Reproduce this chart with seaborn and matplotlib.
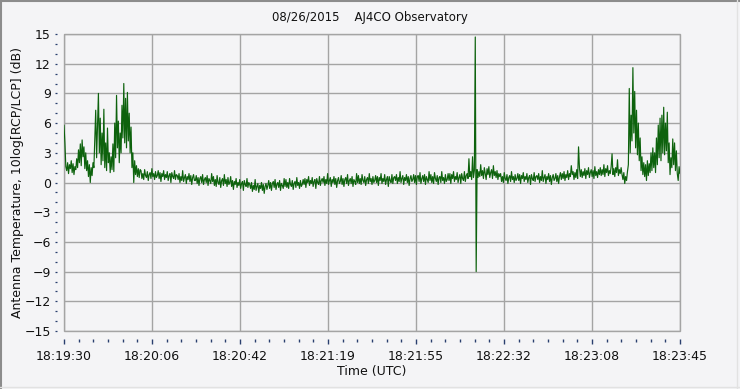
import numpy as np
import pandas as pd
import matplotlib
matplotlib.use("Agg")
import matplotlib.pyplot as plt
import seaborn as sns
from matplotlib.ticker import FixedLocator, MultipleLocator
from matplotlib.patches import Rectangle
from matplotlib.lines import Line2D

# ---------------- data ----------------
title = "08/26/2015    AJ4CO Observatory"
x_label = "Time (UTC)"
y_label = "Antenna Temperature, 10log[RCP/LCP] (dB)"
time_tick_labels = ["18:19:30", "18:20:06", "18:20:42", "18:21:19",
                    "18:21:55", "18:22:32", "18:23:08", "18:23:45"]
duration = 255.0         # seconds shown (18:19:30 -> 18:23:45)

burst_start = [5.8, 4.0, 1.6,
               1.2, 2.0, 0.9, 1.8, 1.4, 2.2, 1.0, 1.9, 0.8, 1.6, 1.3,
               2.4, 1.5, 3.3, 2.0, 3.9, 1.7, 4.3, 2.6, 3.6, 1.4, 3.0, 1.2, 2.2,
               0.6, 1.8, 0.0, 1.5, 0.7, 2.0,
               1.5, 4.5, 7.3, 2.5, 5.8, 9.0, 3.0,
               6.5, 1.8, 5.0, 2.2, 7.4, 1.5, 4.0, 1.2, 5.5, 2.0, 3.0,
               1.0, 2.6, 1.3, 3.9, 1.1, 6.0, 2.5,
               8.8, 3.5, 6.2, 2.0, 5.0, 3.0, 7.8, 4.5, 10.0, 4.0, 8.5, 3.5,
               9.1, 4.2, 7.0, 3.0,
               5.6, 1.5, 3.0, 0.0, 2.2, 0.8, 1.7, 0.6, 1.4, 0.5, 1.3]
quiet_a = [1.2, 0.4, 0.9, 0.3, 1.3, 0.7, 0.5, 1.1, 0.2, 0.8, 1.0, 0.4, 1.4, 0.6, 0.9, 0.3, 1.1, 0.5, 0.7, 1.2,
           0.4, 1.0, 0.1, 0.9, 0.6, 1.2, 0.3, 0.8, 0.5, 1.1, 0.2, 0.7, 0.9, 0.0, 1.0, 0.6, 0.4, 1.2, 0.3, 0.8,
           0.7, 0.3, 0.9, 0.0, 0.6, 0.2, 1.2, 0.1, 0.5, 0.8, -0.1, 0.6, 0.3, 0.9, 0.1, 0.7, -0.2, 0.5, 0.8, 0.2,
           0.2, 0.7, -0.1, 0.5, -0.3, 0.4, 0.6, 0.0, 0.8, -0.2, 0.3, 0.5, 0.0, 0.7, -0.3, 0.4, 0.2, -0.1, 0.9, 0.1,
           0.6, -0.3, 0.3, -0.4, 0.7, 0.0, -0.2, 0.5, -0.5, 0.2, 0.4, -0.3, 0.8, -0.1, 0.3, -0.4, 0.5, -0.2, 0.0, 0.6,
           -0.4, 0.2, -0.7, 0.1, -0.2, 0.4, -0.5, 0.0, -0.3, 0.3, -0.6, -0.1, 0.1, -0.8, 0.2, -0.2, -0.4, 0.4, -0.5, 0.0,
           -0.2, -0.6, 0.0, -0.9, -0.3, -0.7, 0.3, -0.8, -0.4, -0.1, -1.0, -0.3, -0.6, 0.0, -0.8, -0.2, -1.1, -0.4, -0.1, -0.7,
           -0.3, 0.2, -0.6, 0.0, -0.8, -0.1, 0.1, -0.5, 0.3, -0.7, -0.2, 0.0, -0.5, 0.2, -0.8, -0.1, -0.3, -0.6, 0.4, -0.4,
           0.3, -0.5, 0.0, -0.6, 0.4, -0.2, -0.4, 0.2, -0.7, -0.1, 0.1, -0.5, 0.5, -0.3, 0.0, -0.6, 0.2, -0.4, -0.2, 0.3,
           -0.2, 0.4, -0.5, 0.3, 0.0, 0.6, -0.3, 0.2, -0.1, 0.5, -0.4, 0.1, 0.3, -0.6, 0.4, 0.0, -0.2, 0.6, -0.3, 0.2,
           0.4, 0.0, 0.6, -0.3, 0.3, -0.1, 0.9, -0.2, 0.2, 0.5, -0.4, 0.3, 0.0, 0.6, -0.2, 0.4, -0.5, 0.2, 0.5, -0.1,
           0.1, 0.7, -0.2, 0.4, -0.4, 0.3, 0.5, -0.1, 0.8, -0.3, 0.2, 0.4, -0.1, 0.6, -0.4, 0.3, 0.1, -0.2, 0.9, 0.0,
           0.7, -0.1, 0.4, -0.2, 0.8, 0.2, 0.0, 0.6, -0.3, 0.3, 0.5, -0.1, 0.9, 0.1, 0.4, -0.2, 0.6, 0.0, 0.2, 0.7,
           0.0, 0.6, -0.3, 0.5, 0.2, 0.9, -0.1, 0.4, 0.1, 0.8, -0.2, 0.3, 0.6, -0.4, 0.6, 0.2, 0.0, 0.8, -0.1, 0.5,
           0.6, 0.2, 0.8, -0.1, 0.5, 0.1, 1.1, 0.0, 0.4, 0.7, -0.2, 0.5, 0.2, 0.8, 0.0, 0.6, -0.3, 0.4, 0.7, 0.1,
           0.3, 0.8, 0.0, 0.7, -0.2, 0.6, 0.7, 0.1, 1.0, -0.1, 0.4, 0.7, 0.1, 0.8, -0.2, 0.6, 0.3, 0.0, 1.1, 0.2,
           0.8, 0.0, 0.6, -0.1, 1.0, 0.4, 0.1, 0.7, -0.2, 0.5, 0.6, 0.0, 1.1, 0.2, 0.5, -0.1, 0.8, 0.1, 0.3, 0.9,
           0.2, 0.9, -0.1, 0.8, 0.4, 1.1, 0.1, 0.6, 0.3, 1.0, 0.0, 0.5, 0.8, -0.1, 0.9, 0.4, 0.2, 1.1, 0.1, 0.7,
           0.9, 0.4, 2.4, 0.6, 1.1, 0.3, 2.6, 0.5, 1.2]
spike = [14.7, -9.0]
quiet_b = [1.3, 0.5, 1.1, 0.6, 1.8, 0.7, 1.2, 0.4, 1.5, 0.9, 0.3, 1.4, 0.8, 1.6, 0.5, 1.0, 1.3, 0.4, 1.7, 0.7, 1.1, 0.5, 1.2, 0.3, 0.9, 0.6,
           0.9, 0.1, 0.6, 0.0, 1.0, 0.4, 0.2, 0.8, -0.1, 0.5, 0.7, 0.1, 1.1, 0.3, 0.6, 0.0, 0.8, 0.2, 0.4, 0.9,
           0.2, 0.8, -0.1, 0.7, 0.4, 1.0, 0.1, 0.6, 0.3, 0.9, 0.0, 0.5, 0.7, -0.2, 0.8, 0.4, 0.2, 1.0, 0.1, 0.6,
           0.7, 0.3, 0.9, 0.0, 0.6, 0.2, 1.2, 0.1, 0.5, 0.8, -0.1, 0.6, 0.3, 0.9, 0.1, 0.7, -0.2, 0.5, 0.8, 0.2,
           0.4, 0.9, 0.1, 0.7, -0.1, 0.6,
           1.0, 0.3, 0.9, 0.4, 1.1, 0.2, 0.8, 0.5, 1.2, 0.3, 0.9, 0.6,
           1.7, 0.8,
           1.1, 0.3, 1.0, 0.5, 1.3, 0.4,
           3.6, 1.5,
           0.6, 1.3, 0.5, 1.1, 0.7, 1.4, 0.4, 1.2, 0.8, 1.5, 0.5, 1.0, 1.3, 0.6, 1.2, 0.4, 1.6, 0.7, 1.1, 0.5, 1.3, 0.8,
           1.5, 0.7, 1.3, 0.8, 1.8, 0.6, 1.4, 1.0, 1.7, 0.7, 1.2, 0.9, 1.6, 2.9, 0.8, 1.4, 0.6, 1.5, 1.0, 2.3, 0.7, 1.3, 0.9, 1.5,
           0.8, 0.3, 1.0, -0.1, 0.6, 0.2, 1.1, 1.8]
burst_end = [9.5, 3.0, 6.8, 4.2, 11.6, 5.0, 9.2, 3.5, 7.3, 2.8,
             6.0, 2.2, 4.5, 1.2, 2.6, 0.8, 2.0, 0.6, 1.8, 0.2,
             2.2, 0.7, 1.9, 1.0, 3.0, 1.2, 3.5, 1.5, 3.0, 1.0,
             4.5, 1.8, 5.8, 2.5, 6.5, 2.2, 6.8, 3.0, 7.6, 2.8,
             6.0, 3.2, 7.1, 2.0, 4.0, 0.8, 2.5, 1.5, 4.4, 1.8,
             4.0, 1.2, 3.2, 0.9, 0.2, 1.6, 0.9]

values = np.array(burst_start + quiet_a + spike + quiet_b + burst_end)
seconds = np.linspace(0.0, duration, len(values))   # uniform sampling
df = pd.DataFrame({"t": seconds, "db": values})

# ---------------- style ----------------
sns.set_style("white")
plt.rcParams["font.family"] = ["DejaVu Sans"]
bg = "#f4f4f6"
grid_c = "#a4a4a4"
line_c = "#0d620d"
tick_c = "#2a3f6e"

W, H = 740, 389
fig = plt.figure(figsize=(W / 100, H / 100), dpi=100, facecolor=bg)
ax = fig.add_axes([64 / W, 1 - 331 / H, 616 / W, 297 / H])
ax.set_facecolor(bg)

sns.lineplot(data=df, x="t", y="db", ax=ax, color=line_c, linewidth=0.85,
             estimator=None, sort=False)

ax.set_xlim(0, duration)
ax.set_ylim(-15, 15)

major_x = [duration * k / 7 for k in range(8)]
ax.xaxis.set_major_locator(FixedLocator(major_x))
ax.xaxis.set_minor_locator(FixedLocator([duration * k / 42 for k in range(43)]))
ax.set_xticklabels(time_tick_labels)
ax.yaxis.set_major_locator(MultipleLocator(3))
ax.yaxis.set_minor_locator(MultipleLocator(1))

ax.grid(True, which="major", color=grid_c, linewidth=1.0)
ax.set_axisbelow(True)
ax.set_xlabel("")
ax.set_ylabel("")

for s in ["top", "right"]:
    ax.spines[s].set_visible(False)
for s in ["bottom", "left"]:
    ax.spines[s].set_position(("outward", 6 if s == "bottom" else 5))
    ax.spines[s].set_linewidth(0)

ax.xaxis.set_tick_params(which="both", bottom=True, top=False)
ax.yaxis.set_tick_params(which="both", left=True, right=False)
ax.tick_params(axis="x", which="major", direction="out", length=3.6, width=1.0,
               color=tick_c, labelsize=9, pad=4, labelcolor="#111111")
ax.tick_params(axis="x", which="minor", direction="out", length=1.8, width=1.0,
               color=tick_c)
ax.tick_params(axis="y", which="major", direction="out", length=1.5, width=0.9,
               color=tick_c, labelsize=9, pad=3, labelcolor="#111111")
ax.tick_params(axis="y", which="minor", direction="out", length=1.5, width=0.9,
               color=tick_c)

ax.add_patch(Rectangle((0, 0), 1, 1, transform=ax.transAxes, fill=False,
                       edgecolor=grid_c, linewidth=1.0, clip_on=False, zorder=0.5))

fig.text(370 / W, 1 - 18 / H, title, ha="center", va="center", fontsize=8.5,
         color="#111111")
fig.text(372 / W, 1 - 372 / H, x_label, ha="center", va="center", fontsize=9,
         color="#111111")
fig.text(18 / W, 1 - 183 / H, y_label, ha="center", va="center", fontsize=9,
         rotation=90, color="#111111")

# window-like frame
fig.add_artist(Line2D([0.5 / W, 0.5 / W], [0, 1], color="#8c8c8c", lw=1.5))
fig.add_artist(Line2D([0, 1], [1 - 0.5 / H, 1 - 0.5 / H], color="#8c8c8c", lw=1.5))
fig.add_artist(Line2D([1 - 3 / W, 1 - 3 / W], [0, 1], color="#e2e2e2", lw=1))
fig.add_artist(Line2D([0, 1], [2.5 / H, 2.5 / H], color="#e2e2e2", lw=1))

fig.savefig("out.png", dpi=100, facecolor=bg)
